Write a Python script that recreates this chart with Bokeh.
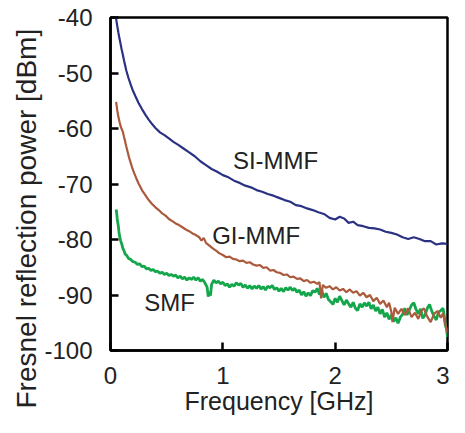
from bokeh.plotting import figure
from bokeh.models import Range1d, FixedTicker, Title
from bokeh.core.properties import value
from bokeh.embed import file_html
from bokeh.resources import INLINE

# ---------------- data ----------------
si_x = [0.05, 0.06, 0.07, 0.08, 0.09, 0.10, 0.11, 0.12, 0.13, 0.14, 0.16, 0.18, 0.20, 0.22,
        0.25, 0.28, 0.31, 0.34, 0.37, 0.40, 0.44, 0.48, 0.52, 0.56, 0.60, 0.65, 0.70, 0.75,
        0.80, 0.85, 0.90, 0.95, 1.00, 1.05, 1.10, 1.15, 1.20, 1.25, 1.30, 1.35, 1.40, 1.45,
        1.50, 1.55, 1.60, 1.65, 1.70, 1.75, 1.80, 1.85, 1.90, 1.95, 2.00, 2.04, 2.08, 2.12,
        2.16, 2.20, 2.25, 2.30, 2.35, 2.40, 2.45, 2.50, 2.55, 2.60, 2.65, 2.70, 2.75, 2.80,
        2.85, 2.90, 2.95, 3.00]
si_y = [-40.2, -41.5, -42.7, -43.8, -44.8, -45.8, -46.7, -47.7, -48.6, -49.5, -50.9, -52.1,
        -53.2, -54.1, -55.4, -56.5, -57.5, -58.4, -59.2, -59.9, -60.7, -61.2, -61.8, -62.4,
        -62.9, -63.6, -64.3, -65.0, -65.9, -66.6, -67.3, -67.8, -68.4, -68.8, -69.4, -69.8,
        -70.3, -70.6, -71.1, -71.4, -71.8, -72.1, -72.5, -72.9, -73.2, -73.8, -74.0, -74.4,
        -74.7, -75.1, -75.4, -76.1, -76.4, -75.9, -76.2, -77.0, -76.8, -77.4, -77.6, -77.9,
        -78.0, -78.2, -78.6, -78.8, -79.1, -79.6, -79.9, -79.6, -79.9, -80.3, -80.3, -80.9,
        -80.7, -80.8]

gi_x = [0.05, 0.06, 0.07, 0.08, 0.09, 0.10, 0.11, 0.12, 0.13, 0.14, 0.15, 0.165, 0.18, 0.195,
        0.21, 0.23, 0.25, 0.28, 0.31, 0.34, 0.37, 0.40, 0.43, 0.46, 0.49, 0.52, 0.55, 0.58,
        0.61, 0.64, 0.67, 0.70, 0.73, 0.76, 0.79, 0.81, 0.83, 0.85, 0.88, 0.91, 0.94, 0.97,
        1.00, 1.03, 1.06, 1.09, 1.12, 1.15, 1.18, 1.21, 1.24, 1.27, 1.30, 1.33, 1.36, 1.39,
        1.42, 1.45, 1.48, 1.51, 1.54, 1.57, 1.60, 1.63, 1.66, 1.69, 1.72, 1.75, 1.78, 1.81,
        1.84, 1.86, 1.875, 1.89, 1.92, 1.95, 1.98, 2.01, 2.04, 2.07, 2.10, 2.13, 2.16, 2.19,
        2.22, 2.25, 2.28, 2.31, 2.34, 2.37, 2.40, 2.43, 2.46, 2.48, 2.50, 2.51, 2.53, 2.56,
        2.59, 2.62, 2.65, 2.68, 2.71, 2.74, 2.77, 2.79, 2.82, 2.85, 2.88, 2.91, 2.94, 2.96,
        2.98, 3.00]
gi_y = [-55.2, -56.7, -57.9, -58.8, -59.6, -60.1, -60.6, -61.5, -62.3, -63.2, -64.0, -65.2,
        -66.2, -67.2, -68.0, -69.0, -69.9, -71.1, -72.0, -72.9, -73.6, -74.2, -74.7, -75.3,
        -75.7, -76.3, -76.7, -77.1, -77.4, -77.8, -78.2, -78.5, -78.9, -79.2, -79.6, -80.2,
        -79.7, -80.6, -81.1, -81.6, -82.0, -82.5, -82.8, -83.2, -83.1, -83.5, -83.6, -83.9,
        -83.8, -84.2, -84.1, -84.5, -84.7, -84.6, -85.1, -85.0, -85.6, -85.5, -85.9, -86.0,
        -86.4, -86.3, -86.8, -86.7, -87.1, -87.0, -87.5, -87.3, -87.8, -87.6, -88.0, -87.7,
        -90.6, -88.2, -88.7, -88.4, -89.0, -88.6, -89.2, -88.9, -89.5, -89.0, -89.6, -89.3,
        -90.1, -89.6, -90.4, -90.0, -91.1, -90.5, -91.6, -91.0, -92.2, -91.4, -93.0, -94.9,
        -92.3, -93.4, -92.5, -93.6, -92.4, -94.0, -93.2, -94.3, -92.8, -92.4, -93.9, -94.9,
        -93.4, -92.9, -94.1, -93.3, -95.2, -96.8]

smf_x = [0.050, 0.055, 0.060, 0.065, 0.070, 0.075, 0.080, 0.090, 0.100, 0.110, 0.120, 0.130,
         0.145, 0.160, 0.180, 0.200, 0.220, 0.240, 0.260, 0.280, 0.300, 0.320, 0.340, 0.360,
         0.380, 0.400, 0.420, 0.440, 0.460, 0.480, 0.500, 0.520, 0.540, 0.560, 0.580, 0.600,
         0.620, 0.640, 0.660, 0.680, 0.700, 0.720, 0.740, 0.760, 0.780, 0.800, 0.820, 0.840,
         0.860, 0.870, 0.880, 0.890, 0.900, 0.920, 0.940, 0.960, 0.980, 1.000, 1.020, 1.040,
         1.060, 1.080, 1.100, 1.120, 1.140, 1.160, 1.180, 1.200, 1.220, 1.240, 1.260, 1.280,
         1.300, 1.320, 1.340, 1.360, 1.380, 1.400, 1.420, 1.440, 1.460, 1.480, 1.500, 1.520,
         1.540, 1.560, 1.580, 1.600, 1.620, 1.640, 1.660, 1.680, 1.700, 1.720, 1.740, 1.760,
         1.780, 1.800, 1.820, 1.840, 1.860, 1.880, 1.900, 1.920, 1.940, 1.960, 1.980, 2.000,
         2.020, 2.040, 2.060, 2.080, 2.100, 2.120, 2.140, 2.160, 2.180, 2.200, 2.220, 2.240,
         2.260, 2.280, 2.300, 2.320, 2.340, 2.360, 2.380, 2.400, 2.420, 2.440, 2.460, 2.480,
         2.500, 2.520, 2.540, 2.560, 2.580, 2.600, 2.620, 2.640, 2.660, 2.680, 2.700, 2.720,
         2.740, 2.760, 2.780, 2.800, 2.820, 2.840, 2.860, 2.880, 2.900, 2.920, 2.940, 2.960,
         2.970, 2.980, 2.990, 3.000]
smf_y = [-74.6, -75.2, -76.3, -77.0, -77.6, -78.6, -79.3, -80.2, -80.8, -81.6, -82.0, -82.6,
         -82.9, -83.4, -83.6, -84.0, -84.1, -84.5, -84.4, -84.9, -84.8, -85.3, -85.2, -85.6,
         -85.4, -85.8, -85.7, -86.1, -85.9, -86.3, -86.1, -86.5, -86.3, -86.6, -86.4, -86.9,
         -86.6, -87.1, -86.8, -87.3, -86.9, -87.2, -86.8, -87.3, -86.9, -87.5, -87.2, -87.8,
         -88.6, -90.3, -89.4, -90.1, -88.1, -87.3, -87.8, -87.5, -88.0, -87.7, -88.3, -88.0,
         -88.6, -88.1, -88.4, -87.8, -88.2, -87.9, -88.6, -88.2, -88.8, -88.3, -88.9, -88.4,
         -88.8, -88.3, -88.9, -88.5, -89.1, -88.4, -88.7, -88.3, -89.0, -88.7, -89.3, -88.8,
         -89.4, -88.7, -89.1, -88.6, -89.2, -88.8, -89.5, -89.1, -90.0, -89.4, -90.2, -89.6,
         -90.1, -89.2, -89.5, -88.8, -89.9, -89.2, -90.4, -89.7, -90.8, -91.2, -91.7, -90.6,
         -91.3, -90.2, -91.0, -91.8, -90.9, -91.6, -92.2, -91.3, -92.4, -92.8, -91.6, -92.2,
         -91.4, -92.0, -91.3, -92.5, -91.8, -92.9, -92.2, -93.4, -92.6, -94.0, -93.2, -94.4,
         -93.6, -94.8, -94.1, -95.1, -94.0, -93.5, -92.4, -93.6, -92.7, -91.8, -91.4, -92.6,
         -93.4, -92.5, -94.2, -93.6, -92.4, -91.7, -92.9, -93.8, -94.5, -93.1, -92.8, -92.4,
         -93.6, -95.4, -96.0, -97.6]

x_ticks = [0, 1, 2, 3]
y_ticks = [-100, -90, -80, -70, -60, -50, -40]

label_text = ["SI-MMF", "GI-MMF", "SMF"]
label_x = [1.09, 0.905, 0.30]
label_y = [-65.8, -79.3, -91.3]

# ---------------- figure ----------------
FONT = "Liberation Sans"
p = figure(width=449, height=417, output_backend="svg", toolbar_location=None,
           x_range=Range1d(0, 3), y_range=Range1d(-100, -40),
           min_border_left=110, min_border_right=2, min_border_top=17, min_border_bottom=61)

p.background_fill_color = "white"
p.border_fill_color = "white"
p.outline_line_color = "black"
p.outline_line_width = 2.5
p.xgrid.visible = False
p.ygrid.visible = False

for ax in (p.xaxis[0], p.yaxis[0]):
    ax.axis_line_width = 2.5
    ax.axis_line_color = "black"
    ax.major_tick_in = 8
    ax.major_tick_out = 0
    ax.major_tick_line_width = 2.5
    ax.major_tick_line_color = "black"
    ax.minor_tick_line_color = None
    ax.major_label_text_font = FONT
    ax.major_label_text_font_size = "24px"
    ax.major_label_text_color = "#222222"
    ax.axis_label_text_font = FONT
    ax.axis_label_text_font_style = "normal"
    ax.axis_label_text_color = "#222222"

p.xaxis.ticker = FixedTicker(ticks=x_ticks)
p.yaxis.ticker = FixedTicker(ticks=y_ticks)
p.xaxis.major_label_overrides = {t: str(t) for t in x_ticks}
p.yaxis.major_label_overrides = {t: str(t) for t in y_ticks}
p.xaxis.axis_label = "Frequency [GHz]"
p.xaxis.axis_label_text_font_size = "25px"
p.xaxis.major_label_standoff = 16
p.yaxis.major_label_standoff = 18
p.xaxis.axis_label_standoff = 0

# y-axis title as a left-side title, anchored near the bottom of the figure
p.add_layout(Title(text="Fresnel reflection power [dBm]", align="left", offset=-58,
                   text_font=FONT, text_font_size="28px", text_font_style="normal",
                   text_color="#222222", standoff=0), "left")

p.line(smf_x, smf_y, line_color="#13A64B", line_width=2.8)
p.line(gi_x, gi_y, line_color="#AC5A3C", line_width=2.2)
p.line(si_x, si_y, line_color="#2B3283", line_width=2.2)

p.text(x=label_x, y=label_y, text=label_text, text_font=value(FONT),
       text_font_size="24px", text_color="#222222",
       text_align="left", text_baseline="middle")

open("out.html", "w").write(file_html(p, INLINE))
